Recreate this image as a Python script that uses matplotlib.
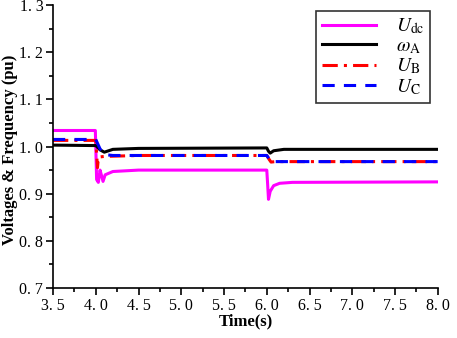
import matplotlib
matplotlib.use("Agg")
import matplotlib.pyplot as plt
from matplotlib.ticker import MultipleLocator

plt.rcParams['font.family'] = ['Liberation Serif', 'DejaVu Serif']
plt.rcParams['mathtext.fontset'] = 'stix'

# Udc
t_dc = [3.5, 3.995, 4.0, 4.01, 4.03, 4.05, 4.065, 4.085, 4.11, 4.2, 4.5, 6.0, 6.01, 6.02, 6.04, 6.08, 6.15, 6.3, 8.0]
u_dc = [1.034, 1.034, 1.0, 0.93, 0.924, 0.95, 0.94, 0.926, 0.94, 0.947, 0.95, 0.95, 0.92, 0.888, 0.905, 0.917, 0.922, 0.924, 0.925]

# omega_A
t_w = [3.5, 4.0, 4.05, 4.1, 4.2, 4.5, 6.0, 6.02, 6.04, 6.08, 6.2, 8.0]
w_a = [1.003, 1.002, 0.993, 0.988, 0.994, 0.996, 0.997, 0.99, 0.986, 0.991, 0.994, 0.994]

# UB
t_b = [3.5, 4.0, 4.01, 4.02, 4.03, 4.05, 4.1, 4.5, 6.0, 6.03, 6.05, 6.1, 8.0]
u_b = [1.013, 1.013, 0.985, 0.955, 0.975, 0.978, 0.979, 0.981, 0.981, 0.972, 0.967, 0.968, 0.968]

# UC
t_c = [3.5, 4.0, 4.05, 4.1, 4.2, 4.5, 6.0, 6.03, 6.05, 6.1, 8.0]
u_c = [1.015, 1.015, 0.995, 0.983, 0.981, 0.981, 0.981, 0.973, 0.967, 0.968, 0.968]

xticks = [3.5, 4.0, 4.5, 5.0, 5.5, 6.0, 6.5, 7.0, 7.5, 8.0]
yticks = [0.7, 0.8, 0.9, 1.0, 1.1, 1.2, 1.3]

fig = plt.figure(figsize=(4.57, 3.38), dpi=100)
ax = fig.add_axes([0.116, 0.148, 0.842, 0.837])

ax.plot(t_dc, u_dc, color='#ff00ff', lw=2.2, label=r'$U_{\rm dc}$')
ax.plot(t_w, w_a, color='black', lw=2.2, label=r'$\omega_{\rm A}$')
ax.plot(t_b, u_b, color='red', lw=2.2, ls=(0, (5, 2, 1, 2)), label=r'$U_{\rm B}$')
ax.plot(t_c, u_c, color='blue', lw=2.2, ls=(0, (4, 3)), label=r'$U_{\rm C}$')

ax.set_xlim(3.5, 8.0)
ax.set_ylim(0.7, 1.3)
ax.set_xticks(xticks)
ax.set_xticklabels([f"{v:.1f}".replace('.', '. ') for v in xticks])
ax.set_yticks(yticks)
ax.set_yticklabels([f"{v:.1f}".replace('.', '. ') for v in yticks])
ax.xaxis.set_minor_locator(MultipleLocator(0.25))
ax.yaxis.set_minor_locator(MultipleLocator(0.05))
ax.tick_params(which='major', direction='out', length=5, width=1.2, labelsize=11.5, pad=2)
ax.tick_params(which='minor', direction='out', length=3, width=1.2)
for s in ['top', 'right']:
    ax.spines[s].set_visible(False)
for s in ['left', 'bottom']:
    ax.spines[s].set_linewidth(1.2)

ax.set_xlabel('Time(s)', fontsize=12, fontweight='bold', labelpad=0)
ax.set_ylabel('Voltages & Frequency (pu)', fontsize=12, fontweight='bold')
ax.yaxis.set_label_coords(-0.092, 0.49)

leg = ax.legend(loc='upper right', bbox_to_anchor=(0.98, 0.98), fontsize=14, frameon=True,
                fancybox=False, edgecolor='black', handlelength=2.8, labelspacing=0.05,
                borderpad=0.3, handletextpad=1.0, borderaxespad=0.0)
leg.get_frame().set_linewidth(1.2)

fig.savefig('out.png', dpi=100)
